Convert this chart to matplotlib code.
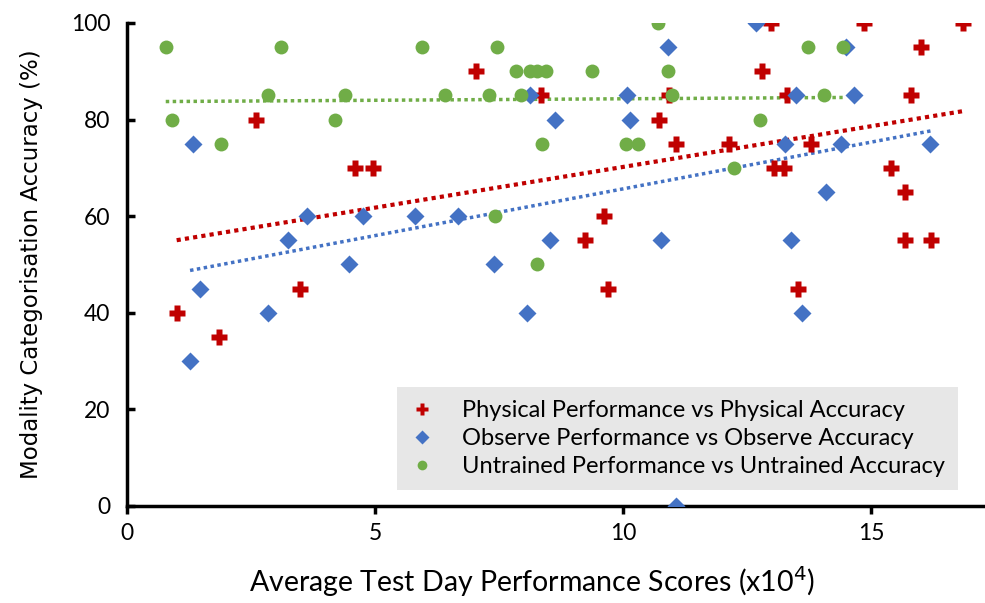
import numpy as np
import matplotlib.pyplot as plt

phys_x = [1.0, 1.85, 2.6, 3.48, 4.6, 4.95, 7.03, 8.35, 9.24, 9.62, 9.7, 10.72, 10.93, 11.07,
          12.13, 12.8, 12.98, 13.04, 13.24, 13.3, 13.52, 13.8, 14.85, 15.41, 15.69, 15.69,
          15.8, 16.0, 16.22, 16.86]
phys_y = [40, 35, 80, 45, 70, 70, 90, 85, 55, 60, 45, 80, 85, 75,
          75, 90, 100, 70, 70, 85, 45, 75, 100, 70, 65, 55,
          85, 95, 55, 100]

obs_x = [1.27, 1.33, 1.47, 2.84, 3.24, 3.62, 4.47, 4.75, 5.8, 6.68, 7.4, 8.07, 8.13, 8.53,
         8.63, 10.08, 10.14, 10.76, 10.9, 11.07, 12.68, 13.26, 13.38, 13.48, 13.6, 14.1,
         14.4, 14.5, 14.65, 16.2]
obs_y = [30, 75, 45, 40, 55, 60, 50, 60, 60, 60, 50, 40, 85, 55,
         80, 85, 80, 55, 95, 0, 100, 75, 55, 85, 40, 65,
         75, 95, 85, 75]

untr_x = [0.78, 0.9, 1.9, 2.85, 3.1, 4.2, 4.4, 5.95, 6.42, 7.3, 7.42, 7.45, 7.85, 7.95,
          8.13, 8.27, 8.27, 8.37, 8.45, 9.38, 10.06, 10.3, 10.7, 10.9, 10.99, 12.23,
          12.76, 13.74, 14.05, 14.43]
untr_y = [95, 80, 75, 85, 95, 80, 85, 95, 85, 85, 60, 95, 90, 85,
          90, 90, 50, 75, 90, 90, 75, 75, 100, 90, 85, 70,
          80, 95, 85, 95]

red = "#C00000"
blue = "#4472C4"
green = "#70AD47"
tick_font = "Lato"

fig = plt.figure(figsize=(9.85, 6.03), dpi=100)
ax = fig.add_axes([0.129, 0.161, 0.871, 0.801])

ax.plot(phys_x, phys_y, "P", color=red, ms=12, mec="none", ls="none",
        label="Physical Performance vs Physical Accuracy", zorder=3)
ax.plot(obs_x, obs_y, "D", color=blue, ms=9.5, mec="none", ls="none",
        label="Observe Performance vs Observe Accuracy", zorder=3)
ax.plot(untr_x, untr_y, "o", color=green, ms=10, mec="none", ls="none",
        label="Untrained Performance vs Untrained Accuracy", zorder=3)

# linear trend lines
for xs, ys, c, lw in [(phys_x, phys_y, red, 3), (obs_x, obs_y, blue, 2.5), (untr_x, untr_y, green, 2.5)]:
    k, b = np.polyfit(xs, ys, 1)
    xx = np.array([min(xs), max(xs)])
    ax.plot(xx, k * xx + b, color=c, lw=lw, ls=(0, (1, 1)), zorder=2)

ax.set_xlim(0, 17.3)
ax.set_ylim(0, 100)
ax.set_xticks([0, 5, 10, 15])
ax.set_yticks([0, 20, 40, 60, 80, 100])
for s in ["top", "right"]:
    ax.spines[s].set_visible(False)
for s in ["left", "bottom"]:
    ax.spines[s].set_linewidth(2.5)
ax.tick_params(axis="y", direction="in", width=2.5, length=6, labelsize=16.5, pad=12)
ax.tick_params(axis="x", direction="out", width=2.5, length=6, labelsize=16.5, pad=6)
for lab in ax.get_xticklabels() + ax.get_yticklabels():
    lab.set_fontfamily(tick_font)

ax.set_xlabel("Average Test Day Performance Scores (x10$^4$)", fontsize=20.5,
              fontfamily=tick_font, labelpad=15)
ax.xaxis.label.set_x(0.472)
ax.set_ylabel("Modality Categorisation Accuracy (%)", fontsize=16.5,
              fontfamily="DejaVu Sans", labelpad=20)

leg = ax.legend(loc="lower right", bbox_to_anchor=(0.968, 0.033), frameon=True,
                fancybox=False, facecolor="#e7e7e7", edgecolor="none", framealpha=1,
                prop={"family": tick_font, "size": 17}, markerscale=0.7,
                handlelength=1.0, handletextpad=1.2, borderpad=0.55, labelspacing=0.3,
                borderaxespad=0)

fig.savefig("out.png", dpi=100)
